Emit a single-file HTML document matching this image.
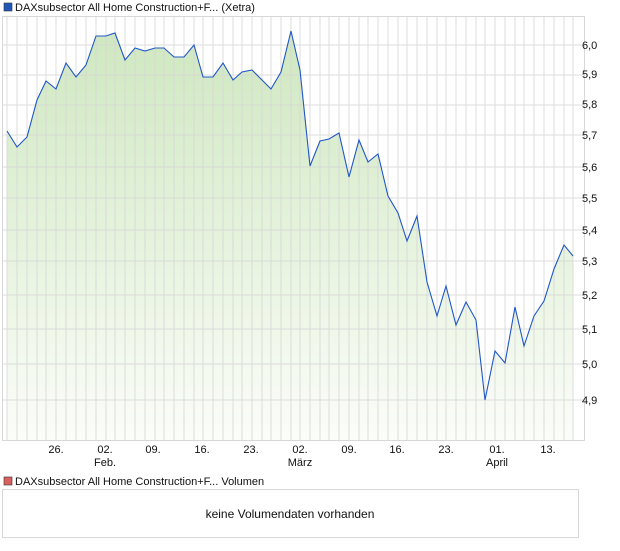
<!DOCTYPE html><html><head><style>body{margin:0;background:#fff;font-family:"Liberation Sans",sans-serif}</style></head><body>
<svg width="620" height="546" xmlns="http://www.w3.org/2000/svg" font-family="Liberation Sans, sans-serif" font-size="11">
<defs><linearGradient id="g" x1="0" y1="0" x2="0" y2="1"><stop offset="0" stop-color="#cfe8c0"/><stop offset="1" stop-color="#fbfdf9"/></linearGradient></defs>
<rect x="4" y="3" width="8" height="8" fill="#1f57b8" stroke="#333" stroke-width="0.6"/>
<text x="15" y="11" fill="#111">DAXsubsector All Home Construction+F... (Xetra)</text>
<polygon id="area" fill="url(#g)"/>
<g id="grid" stroke="#d6d6d6" stroke-width="1" opacity="0.8"></g>
<rect x="2.5" y="16.5" width="582" height="424" fill="none" stroke="#d8d8d8"/>
<polyline id="line" fill="none" stroke="#1f57c8" stroke-width="1.1"/>
<g fill="#111" font-size="11">
<text x="582" y="49">6,0</text><text x="582" y="78">5,9</text><text x="582" y="108">5,8</text><text x="582" y="139">5,7</text><text x="582" y="171">5,6</text><text x="582" y="202">5,5</text><text x="582" y="234">5,4</text><text x="582" y="265">5,3</text><text x="582" y="299">5,2</text><text x="582" y="333">5,1</text><text x="582" y="368">5,0</text><text x="582" y="404">4,9</text>
</g>
<g fill="#111" text-anchor="middle" font-size="11">
<text x="56" y="453">26.</text><text x="105" y="453">02.</text><text x="105" y="466">Feb.</text><text x="153" y="453">09.</text><text x="202" y="453">16.</text><text x="251" y="453">23.</text><text x="300" y="453">02.</text><text x="300" y="466">März</text><text x="349" y="453">09.</text><text x="397" y="453">16.</text><text x="446" y="453">23.</text><text x="497" y="453">01.</text><text x="497" y="466">April</text><text x="548" y="453">13.</text>
</g>
<rect x="4" y="477" width="8" height="8" fill="#d9605c" stroke="#333" stroke-width="0.6"/>
<text x="15" y="485" fill="#111">DAXsubsector All Home Construction+F... Volumen</text>
<rect x="2.5" y="489.5" width="576" height="48" fill="none" stroke="#d8d8d8"/>
<text x="290" y="518" text-anchor="middle" font-size="12" fill="#111">keine Volumendaten vorhanden</text>
</svg>
<script>
var d=[[7,131],[17,147],[27,137],[37,100],[46,81],[56,89],[66,63],[76,77],[86,65],[96,36],[106,36],[115,33],[125,60],[135,48],[145,51],[155,48],[164,48],[174,57],[184,57],[194,45],[203,77],[213,77],[223,63],[233,80],[242,72],[252,70],[262,80],[271,89],[281,72],[291,31],[300,70],[310,166],[320,141],[329,139],[339,133],[349,177],[359,140],[368,162],[378,154],[388,196],[398,213],[407,241],[417,216],[427,282],[437,316],[446,286],[456,325],[466,302],[476,320],[485,400],[495,351],[505,363],[515,307],[524,346],[534,316],[544,301],[554,269],[564,245],[573,256]];
var s=d.map(p=>p.join(',')).join(' ');
document.getElementById('line').setAttribute('points',s);
document.getElementById('area').setAttribute('points',s+' 573,440 7,440');
var g=document.getElementById('grid'),h='';
d.forEach(p=>{h+='<line x1="'+p[0]+'" y1="17" x2="'+p[0]+'" y2="440"/>'});
[45,75,105,135,167,198,230,261,295,329,364,400].forEach(y=>{h+='<line x1="3" y1="'+y+'" x2="584" y2="'+y+'"/>'});
g.innerHTML=h;
</script>
</body></html>
